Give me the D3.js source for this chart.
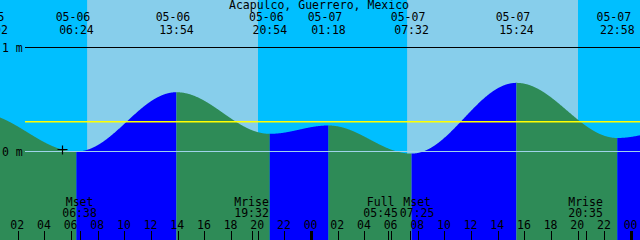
<!DOCTYPE html>
<html>
<head>
  <meta charset="UTF-8">
  <title>Acapulco, Guerrero, Mexico</title>
  <script src="https://d3js.org/d3.v7.min.js"></script>
  <style>
    body { margin: 0; background: #fff; }
    svg text { font-family: "DejaVu Sans Mono", monospace; font-size: 11.5px; fill: #000; }
  </style>
</head>
<body>
  <div id="chart"></div>
  <script>
    // tide extremes (local time), heights in metres
    const tideTimes = ["05-05 23:02", "05-06 06:24", "05-06 13:54", "05-06 20:54", "05-07 01:18",
                       "05-07 07:32", "05-07 15:24", "05-07 22:58", "05-08 03:40"];
    const tideHeights = [0.37, 0.0, 0.57, 0.17, 0.25, -0.02, 0.66, 0.13, 0.22];

    const sunrise = ["05-06 07:12", "05-07 07:12"];
    const sunset = ["05-06 20:01", "05-07 20:01"];

    const moonTimes = ["05-06 06:38", "05-06 19:32", "05-07 05:45", "05-07 07:25", "05-07 20:35"];
    const moonNames = ["Mset", "Mrise", "Full", "Mset", "Mrise"];

    const hourTicks = [2, 4, 6, 8, 10, 12, 14, 16, 18, 20, 22, 24, 26, 28, 30, 32, 34, 36, 38, 40, 42, 44, 46, 48];
    const heightLines = [0, 1];
    const mslHeight = 0.295;
    const startTime = "05-06 00:40";
    const nowTime = "05-06 05:19";
    const title = "Acapulco, Guerrero, Mexico";

    const W = 640, H = 240;
    const parse = d3.timeParse("%m-%d %H:%M");
    const base = parse("05-06 00:00");
    const hrs = s => (parse(s) - base) / 3600000;

    const t0 = hrs(startTime);
    const x = d3.scaleLinear().domain([t0, t0 + 48]).range([0, W]);
    const y = d3.scaleLinear().domain([0, 1]).range([151.5, 47.5]);

    const tides = tideTimes.map((s, i) => ({ t: hrs(s), h: tideHeights[i], label: s.split(" ") }));

    function level(t) {
      for (let i = 0; i < tides.length - 1; i++) {
        const a = tides[i], b = tides[i + 1];
        if (t >= a.t && t <= b.t) {
          const f = (t - a.t) / (b.t - a.t);
          return a.h + (b.h - a.h) * (1 - Math.cos(Math.PI * f)) / 2;
        }
      }
      return tides[tides.length - 1].h;
    }

    const svg = d3.select("#chart").append("svg")
      .attr("width", W).attr("height", H)
      .style("display", "block");

    // night / day background
    svg.append("rect").attr("width", W).attr("height", H).attr("fill", "#00bfff");
    svg.selectAll(".day")
      .data(sunrise.map((s, i) => [hrs(s), hrs(sunset[i])]))
      .enter().append("rect")
      .attr("x", d => x(d[0]))
      .attr("width", d => x(d[1]) - x(d[0]))
      .attr("y", 0).attr("height", H)
      .attr("fill", "#87ceeb");

    // water, blue while rising and green while falling
    const area = d3.area()
      .x(d => x(d))
      .y0(H)
      .y1(d => y(level(d)));

    for (let i = 0; i < tides.length - 1; i++) {
      const a = Math.max(tides[i].t, t0), b = Math.min(tides[i + 1].t, t0 + 48);
      if (b <= a) continue;
      const pts = d3.range(a, b, 0.02).concat([b]);
      svg.append("path")
        .datum(pts)
        .attr("d", area)
        .attr("fill", tides[i + 1].h > tides[i].h ? "#0000ff" : "#2e8b57");
    }

    // height lines (drawn as 1px rects so they stay crisp)
    svg.selectAll(".hline")
      .data(heightLines)
      .enter().append("rect")
      .attr("x", 25).attr("width", W - 25)
      .attr("y", d => Math.floor(y(d))).attr("height", 1)
      .attr("fill", d => d === 0 ? "#9fd3ea" : "#000");

    svg.selectAll(".hlabel")
      .data(heightLines)
      .enter().append("text")
      .attr("x", 2).attr("y", d => y(d) + 4)
      .text(d => d + " m");

    // mean sea level
    svg.append("rect")
      .attr("x", 25).attr("width", W - 25)
      .attr("y", Math.round(y(mslHeight))).attr("height", 1.5)
      .attr("fill", "yellow");

    // now marker
    const tn = hrs(nowTime);
    const nx = Math.round(x(tn)) + 0.5, ny = Math.round(y(level(tn))) + 0.5;
    svg.append("path")
      .attr("d", `M${nx - 5},${ny}H${nx + 5}M${nx},${ny - 4}V${ny + 5}`)
      .attr("stroke", "#000").attr("stroke-width", 1.2);

    // title
    svg.append("text").attr("x", 319).attr("y", 9)
      .attr("text-anchor", "middle").text(title);

    // tide labels at top
    const tl = svg.selectAll(".tl")
      .data(tides.filter(d => x(d.t) > -30 && x(d.t) < W + 30))
      .enter().append("g")
      .attr("transform", d => `translate(${Math.max(x(d.t), -9.5)},0)`);
    tl.append("text").attr("x", -3.5).attr("y", 21).attr("text-anchor", "middle").text(d => d.label[0]);
    tl.append("text").attr("x", 0).attr("y", 34).attr("text-anchor", "middle").text(d => d.label[1]);

    // hour ticks and labels
    svg.selectAll(".tick")
      .data(hourTicks)
      .enter().append("rect")
      .attr("x", d => Math.round(x(d)) - (d % 24 === 0 ? 1 : 0))
      .attr("width", d => d % 24 === 0 ? 3 : 1)
      .attr("y", 231).attr("height", 9)
      .attr("fill", "#000");
    svg.selectAll(".hour")
      .data(hourTicks)
      .enter().append("text")
      .attr("x", d => x(d) - 0.5).attr("y", 229)
      .attr("text-anchor", "middle")
      .text(d => d3.format("02")(d % 24));

    // moon events, labels pushed apart where they collide
    const moon = moonTimes.map((s, i) => ({ t: hrs(s), name: moonNames[i], time: s.split(" ")[1] }));
    moon.forEach(d => { d.lx = x(d.t); });
    for (let i = 0; i < moon.length - 1; i++) {
      const gap = moon[i + 1].lx - moon[i].lx;
      if (gap < 36.5) { moon[i].lx -= (36.5 - gap) / 2; moon[i + 1].lx += (36.5 - gap) / 2; }
    }
    svg.selectAll(".mtick")
      .data(moon)
      .enter().append("rect")
      .attr("x", d => Math.round(x(d.t)))
      .attr("width", 1).attr("y", 231).attr("height", 9)
      .attr("fill", "#000");
    const ml = svg.selectAll(".ml")
      .data(moon)
      .enter().append("g")
      .attr("transform", d => `translate(${d.lx},0)`);
    ml.append("text").attr("y", 206).attr("text-anchor", "middle").text(d => d.name);
    ml.append("text").attr("y", 217).attr("text-anchor", "middle").text(d => d.time);
  </script>
</body>
</html>
